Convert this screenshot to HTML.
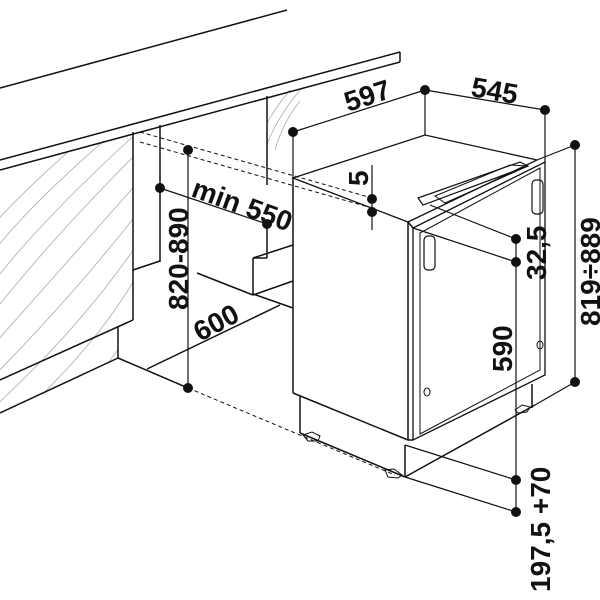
<!DOCTYPE html>
<html><head><meta charset="utf-8"><style>html,body{margin:0;padding:0;background:#fff}svg{display:block}text{font-family:"Liberation Sans",sans-serif;font-weight:bold;font-size:28px;fill:#111}</style></head>
<body>
<svg width="600" height="600" viewBox="0 0 600 600" xmlns="http://www.w3.org/2000/svg">
<defs><clipPath id="lp"><polygon points="0,172 133,132 133,320 118,326 118,358 0,413"/></clipPath>
<clipPath id="rp"><polygon points="267,96 300,86 300,150 267,150"/></clipPath></defs>
<g fill="none" stroke="#aaa" stroke-width="0.8">
<g clip-path="url(#lp)">
<path d="M-20,330 Q40,250 140,150"/><path d="M-20,300 Q30,230 140,130"/><path d="M-20,270 Q20,210 140,110"/><path d="M-20,360 Q60,270 140,180"/><path d="M-20,390 Q70,300 140,210"/><path d="M-20,420 Q80,330 140,240"/><path d="M-20,450 Q90,360 140,270"/><path d="M0,470 Q100,390 150,300"/><path d="M10,500 Q110,420 160,330"/><path d="M-20,240 Q20,190 140,90"/>
</g>
<g clip-path="url(#rp)"><path d="M265,150 Q275,120 300,90"/><path d="M275,150 Q285,115 310,90"/><path d="M255,150 Q265,120 290,90"/></g>
</g>
<g fill="none" stroke="#111" stroke-width="1.5">
<line x1="0" y1="88" x2="287" y2="10"/>
<line x1="0" y1="160" x2="400" y2="52"/>
<line x1="0" y1="170" x2="400" y2="62"/>
<line x1="400" y1="52" x2="400" y2="62"/>
<line x1="133" y1="132" x2="133" y2="320"/>
<line x1="160" y1="125" x2="160" y2="262"/>
<line x1="133" y1="270" x2="160" y2="261"/>
<line x1="0" y1="380" x2="133" y2="320"/>
<line x1="118" y1="326" x2="118" y2="358"/>
<line x1="0" y1="413" x2="118" y2="358"/>
<line x1="267" y1="96" x2="267" y2="185"/>
<line x1="267" y1="224" x2="267" y2="258"/>
<line x1="253" y1="258" x2="267" y2="258"/>
<line x1="253" y1="258" x2="293" y2="245"/>
<line x1="253" y1="258" x2="253" y2="295"/>
<line x1="253" y1="295" x2="293" y2="281"/>
<line x1="253" y1="294" x2="293" y2="308"/>
<line x1="197" y1="273" x2="253" y2="295"/>
<line x1="118" y1="358" x2="188" y2="388"/>
<line x1="147" y1="369" x2="280" y2="305"/>
<polygon points="293,178 425,135 537,160 408,222" stroke-width="1.3"/>
<line x1="293" y1="178" x2="293" y2="393"/>
<line x1="408" y1="222" x2="408" y2="440"/>
<line x1="293" y1="393" x2="408" y2="440"/>
<polygon points="413,228 545,162 545,375 413,440" stroke-width="1.3"/>
<polygon points="420,233 540,168 540,370 420,434" stroke-width="1"/>
<line x1="408" y1="440" x2="413" y2="440"/>
<line x1="408" y1="222" x2="413" y2="228"/>
<line x1="300" y1="396" x2="300" y2="433"/>
<line x1="300" y1="433" x2="405" y2="477"/>
<line x1="405" y1="445" x2="405" y2="477"/>
<line x1="405" y1="477" x2="535" y2="405"/>
<line x1="532" y1="384" x2="532" y2="408"/>
<polygon points="303,435 312,432 320,436 318,441 308,441" stroke-width="1"/>
<polygon points="385,470 394,469 402,475 398,478 388,477" stroke-width="1"/>
<polygon points="515,410 522,405 530,407 527,412 518,413" stroke-width="1"/>
<polygon points="418,198 520,162 528,166 423,205" stroke-width="1.2"/>
<polygon points="435,196 510,165 528,166 445,203" stroke-width="1"/>
<rect x="424" y="236" width="11" height="34" rx="4" stroke-width="1.2"/>
<rect x="532" y="180" width="11" height="34" rx="4" stroke-width="1.2"/>
<ellipse cx="427" cy="392" rx="3" ry="4" stroke-width="1"/>
<ellipse cx="540" cy="345" rx="3" ry="4" stroke-width="1"/>
</g>
<g stroke="#111" stroke-width="1" stroke-dasharray="4,3" fill="none">
<line x1="140" y1="132" x2="372" y2="198"/>
<line x1="140" y1="142" x2="372" y2="208"/>
<line x1="188" y1="388" x2="395" y2="475"/>
</g>
<g stroke="#111" stroke-width="1.2" fill="none">
<line x1="293" y1="132" x2="425" y2="90"/>
<line x1="425" y1="90" x2="545" y2="110"/>
<line x1="293" y1="132" x2="293" y2="178"/>
<line x1="425" y1="90" x2="425" y2="135"/>
<line x1="545" y1="110" x2="545" y2="162"/>
<line x1="575" y1="145" x2="575" y2="382"/>
<line x1="575" y1="145" x2="537" y2="160"/>
<line x1="575" y1="382" x2="535" y2="405"/>
<line x1="188" y1="150" x2="188" y2="388"/>
<line x1="160" y1="188" x2="267" y2="224"/>
<line x1="372" y1="165" x2="372" y2="230"/>
<line x1="516" y1="239" x2="516" y2="512"/>
<line x1="430" y1="205" x2="516" y2="239"/>
<line x1="413" y1="228" x2="516" y2="262"/>
<line x1="405" y1="445" x2="516" y2="480"/>
<line x1="405" y1="477" x2="516" y2="512"/>
</g>
<g fill="#111">
<circle cx="293" cy="132" r="5"/><circle cx="425" cy="90" r="5"/><circle cx="545" cy="110" r="5"/>
<circle cx="575" cy="145" r="5"/><circle cx="575" cy="382" r="5"/>
<circle cx="188" cy="150" r="5"/><circle cx="160" cy="188" r="5"/><circle cx="267" cy="224" r="5"/>
<circle cx="188" cy="388" r="5"/>
<circle cx="372" cy="199" r="5"/><circle cx="372" cy="212" r="5"/>
<circle cx="516" cy="239" r="5"/><circle cx="516" cy="262" r="5"/>
<circle cx="516" cy="480" r="5"/><circle cx="516" cy="512" r="5"/>
</g>
<text transform="translate(348,112) rotate(-18)">597</text>
<text transform="translate(470,96) rotate(10)">545</text>
<text transform="translate(190,196) rotate(20)">min 550</text>
<text transform="translate(188,310) rotate(-90)">820-890</text>
<text transform="translate(200,342) rotate(-28)">600</text>
<text transform="translate(368,186) rotate(-90)">5</text>
<text transform="translate(546,280) rotate(-90)">32,5</text>
<text transform="translate(512,372) rotate(-90)">590</text>
<text transform="translate(600,326) rotate(-90)">819÷889</text>
<text transform="translate(550,592) rotate(-90)">197,5 +70</text>
</svg>
</body></html>
